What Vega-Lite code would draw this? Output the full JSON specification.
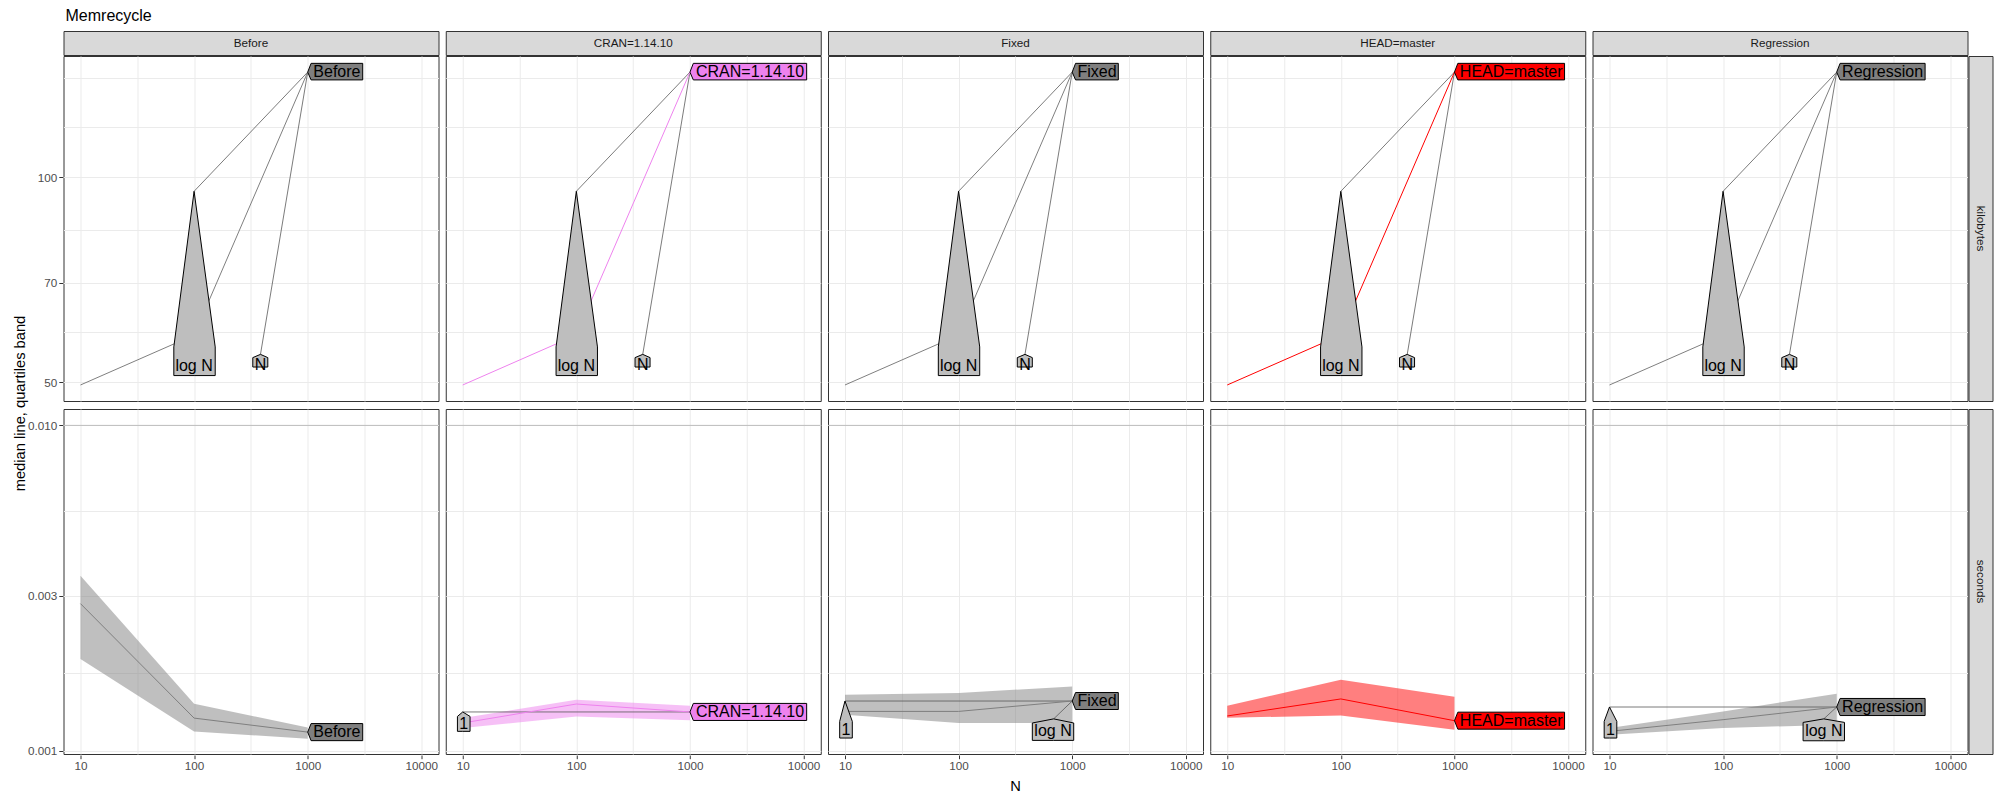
{
 "$schema": "https://vega.github.io/schema/vega-lite/v6.json",
 "padding": {"left": 12.5, "top": 7, "right": 4, "bottom": 4},
 "title": {"text": "Memrecycle", "anchor": "start", "fontSize": 16, "fontWeight": "normal", "color": "#000000", "offset": 7, "dx": 53},
 "config": {
  "font": "Liberation Sans",
  "view": {"stroke": "#333333", "strokeWidth": 1, "fill": "#FFFFFF"},
  "axis": {"domain": false, "gridColor": "#EBEBEB", "gridWidth": 1, "tickColor": "#333333", "tickSize": 3.7, "tickWidth": 1, "labelFontSize": 11.7, "labelColor": "#4D4D4D", "labelPadding": 2, "titleFontSize": 14.7, "titleFontWeight": "normal", "titleColor": "#000000", "labelFlush": false, "labelOverlap": false, "labelBound": false},
  "header": {"titleFontSize": 14.7, "titleFontWeight": "normal", "titleColor": "#000000"}
 },
 "datasets": {
  "ytitle": [{"t": "median line, quartiles band"}],
  "strip": [{"expr": "Before", "part": "strip"}, {"expr": "CRAN=1.14.10", "part": "strip"}, {"expr": "Fixed", "part": "strip"}, {"expr": "HEAD=master", "part": "strip"}, {"expr": "Regression", "part": "strip"}],
  "kbunit": [{"unit": "kilobytes"}],
  "secunit": [{"unit": "seconds"}],
  "kb": [
   {"expr": "Before", "kind": "median", "N": 10, "v": 49.5},
   {"expr": "Before", "kind": "median", "N": 100, "v": 58.6},
   {"expr": "Before", "kind": "median", "N": 1000, "v": 142.6},
   {"expr": "Before", "kind": "ref", "grp": "logN", "N": 100, "v": 95.3},
   {"expr": "Before", "kind": "ref", "grp": "logN", "N": 1000, "v": 142.6},
   {"expr": "Before", "kind": "ref", "grp": "N", "N": 384, "v": 54.9},
   {"expr": "Before", "kind": "ref", "grp": "N", "N": 1000, "v": 142.6},
   {"expr": "Before", "kind": "poly", "grp": "lab", "fillcat": "Before", "N": 1000, "v": 142.6, "v2": 142.6},
   {"expr": "Before", "kind": "poly", "grp": "lab", "fillcat": "Before", "N": 1071, "v": 146.9, "v2": 138.9},
   {"expr": "Before", "kind": "poly", "grp": "lab", "fillcat": "Before", "N": 3050, "v": 146.9, "v2": 138.9},
   {"expr": "Before", "kind": "poly", "grp": "logN", "fillcat": "ref", "N": 66.3, "v": 56.3, "v2": 51.1},
   {"expr": "Before", "kind": "poly", "grp": "logN", "fillcat": "ref", "N": 100, "v": 95.3, "v2": 51.1},
   {"expr": "Before", "kind": "poly", "grp": "logN", "fillcat": "ref", "N": 153.4, "v": 56.3, "v2": 51.1},
   {"expr": "Before", "kind": "poly", "grp": "N", "fillcat": "ref", "N": 328.6, "v": 54.3, "v2": 52.6},
   {"expr": "Before", "kind": "poly", "grp": "N", "fillcat": "ref", "N": 384, "v": 54.9, "v2": 52.6},
   {"expr": "Before", "kind": "poly", "grp": "N", "fillcat": "ref", "N": 445.5, "v": 54.3, "v2": 52.6},
   {"expr": "Before", "kind": "text", "N": 1807, "v": 142.6, "label": "Before"},
   {"expr": "Before", "kind": "text", "N": 100, "v": 52.8, "label": "log N"},
   {"expr": "Before", "kind": "text", "N": 384, "v": 52.9, "label": "N"},

   {"expr": "CRAN=1.14.10", "kind": "median", "N": 10, "v": 49.5},
   {"expr": "CRAN=1.14.10", "kind": "median", "N": 100, "v": 58.6},
   {"expr": "CRAN=1.14.10", "kind": "median", "N": 1000, "v": 142.6},
   {"expr": "CRAN=1.14.10", "kind": "ref", "grp": "logN", "N": 100, "v": 95.3},
   {"expr": "CRAN=1.14.10", "kind": "ref", "grp": "logN", "N": 1000, "v": 142.6},
   {"expr": "CRAN=1.14.10", "kind": "ref", "grp": "N", "N": 384, "v": 54.9},
   {"expr": "CRAN=1.14.10", "kind": "ref", "grp": "N", "N": 1000, "v": 142.6},
   {"expr": "CRAN=1.14.10", "kind": "poly", "grp": "lab", "fillcat": "CRAN=1.14.10", "N": 1000, "v": 142.6, "v2": 142.6},
   {"expr": "CRAN=1.14.10", "kind": "poly", "grp": "lab", "fillcat": "CRAN=1.14.10", "N": 1071, "v": 146.9, "v2": 138.9},
   {"expr": "CRAN=1.14.10", "kind": "poly", "grp": "lab", "fillcat": "CRAN=1.14.10", "N": 10650, "v": 146.9, "v2": 138.9},
   {"expr": "CRAN=1.14.10", "kind": "poly", "grp": "logN", "fillcat": "ref", "N": 66.3, "v": 56.3, "v2": 51.1},
   {"expr": "CRAN=1.14.10", "kind": "poly", "grp": "logN", "fillcat": "ref", "N": 100, "v": 95.3, "v2": 51.1},
   {"expr": "CRAN=1.14.10", "kind": "poly", "grp": "logN", "fillcat": "ref", "N": 153.4, "v": 56.3, "v2": 51.1},
   {"expr": "CRAN=1.14.10", "kind": "poly", "grp": "N", "fillcat": "ref", "N": 328.6, "v": 54.3, "v2": 52.6},
   {"expr": "CRAN=1.14.10", "kind": "poly", "grp": "N", "fillcat": "ref", "N": 384, "v": 54.9, "v2": 52.6},
   {"expr": "CRAN=1.14.10", "kind": "poly", "grp": "N", "fillcat": "ref", "N": 445.5, "v": 54.3, "v2": 52.6},
   {"expr": "CRAN=1.14.10", "kind": "text", "N": 3379, "v": 142.6, "label": "CRAN=1.14.10"},
   {"expr": "CRAN=1.14.10", "kind": "text", "N": 100, "v": 52.8, "label": "log N"},
   {"expr": "CRAN=1.14.10", "kind": "text", "N": 384, "v": 52.9, "label": "N"},

   {"expr": "Fixed", "kind": "median", "N": 10, "v": 49.5},
   {"expr": "Fixed", "kind": "median", "N": 100, "v": 58.6},
   {"expr": "Fixed", "kind": "median", "N": 1000, "v": 142.6},
   {"expr": "Fixed", "kind": "ref", "grp": "logN", "N": 100, "v": 95.3},
   {"expr": "Fixed", "kind": "ref", "grp": "logN", "N": 1000, "v": 142.6},
   {"expr": "Fixed", "kind": "ref", "grp": "N", "N": 384, "v": 54.9},
   {"expr": "Fixed", "kind": "ref", "grp": "N", "N": 1000, "v": 142.6},
   {"expr": "Fixed", "kind": "poly", "grp": "lab", "fillcat": "Fixed", "N": 1000, "v": 142.6, "v2": 142.6},
   {"expr": "Fixed", "kind": "poly", "grp": "lab", "fillcat": "Fixed", "N": 1071, "v": 146.9, "v2": 138.9},
   {"expr": "Fixed", "kind": "poly", "grp": "lab", "fillcat": "Fixed", "N": 2546, "v": 146.9, "v2": 138.9},
   {"expr": "Fixed", "kind": "poly", "grp": "logN", "fillcat": "ref", "N": 66.3, "v": 56.3, "v2": 51.1},
   {"expr": "Fixed", "kind": "poly", "grp": "logN", "fillcat": "ref", "N": 100, "v": 95.3, "v2": 51.1},
   {"expr": "Fixed", "kind": "poly", "grp": "logN", "fillcat": "ref", "N": 153.4, "v": 56.3, "v2": 51.1},
   {"expr": "Fixed", "kind": "poly", "grp": "N", "fillcat": "ref", "N": 328.6, "v": 54.3, "v2": 52.6},
   {"expr": "Fixed", "kind": "poly", "grp": "N", "fillcat": "ref", "N": 384, "v": 54.9, "v2": 52.6},
   {"expr": "Fixed", "kind": "poly", "grp": "N", "fillcat": "ref", "N": 445.5, "v": 54.3, "v2": 52.6},
   {"expr": "Fixed", "kind": "text", "N": 1652, "v": 142.6, "label": "Fixed"},
   {"expr": "Fixed", "kind": "text", "N": 100, "v": 52.8, "label": "log N"},
   {"expr": "Fixed", "kind": "text", "N": 384, "v": 52.9, "label": "N"},

   {"expr": "HEAD=master", "kind": "median", "N": 10, "v": 49.5},
   {"expr": "HEAD=master", "kind": "median", "N": 100, "v": 58.6},
   {"expr": "HEAD=master", "kind": "median", "N": 1000, "v": 142.6},
   {"expr": "HEAD=master", "kind": "ref", "grp": "logN", "N": 100, "v": 95.3},
   {"expr": "HEAD=master", "kind": "ref", "grp": "logN", "N": 1000, "v": 142.6},
   {"expr": "HEAD=master", "kind": "ref", "grp": "N", "N": 384, "v": 54.9},
   {"expr": "HEAD=master", "kind": "ref", "grp": "N", "N": 1000, "v": 142.6},
   {"expr": "HEAD=master", "kind": "poly", "grp": "lab", "fillcat": "HEAD=master", "N": 1000, "v": 142.6, "v2": 142.6},
   {"expr": "HEAD=master", "kind": "poly", "grp": "lab", "fillcat": "HEAD=master", "N": 1071, "v": 146.9, "v2": 138.9},
   {"expr": "HEAD=master", "kind": "poly", "grp": "lab", "fillcat": "HEAD=master", "N": 9316, "v": 146.9, "v2": 138.9},
   {"expr": "HEAD=master", "kind": "poly", "grp": "logN", "fillcat": "ref", "N": 66.3, "v": 56.3, "v2": 51.1},
   {"expr": "HEAD=master", "kind": "poly", "grp": "logN", "fillcat": "ref", "N": 100, "v": 95.3, "v2": 51.1},
   {"expr": "HEAD=master", "kind": "poly", "grp": "logN", "fillcat": "ref", "N": 153.4, "v": 56.3, "v2": 51.1},
   {"expr": "HEAD=master", "kind": "poly", "grp": "N", "fillcat": "ref", "N": 328.6, "v": 54.3, "v2": 52.6},
   {"expr": "HEAD=master", "kind": "poly", "grp": "N", "fillcat": "ref", "N": 384, "v": 54.9, "v2": 52.6},
   {"expr": "HEAD=master", "kind": "poly", "grp": "N", "fillcat": "ref", "N": 445.5, "v": 54.3, "v2": 52.6},
   {"expr": "HEAD=master", "kind": "text", "N": 3159, "v": 142.6, "label": "HEAD=master"},
   {"expr": "HEAD=master", "kind": "text", "N": 100, "v": 52.8, "label": "log N"},
   {"expr": "HEAD=master", "kind": "text", "N": 384, "v": 52.9, "label": "N"},

   {"expr": "Regression", "kind": "median", "N": 10, "v": 49.5},
   {"expr": "Regression", "kind": "median", "N": 100, "v": 58.6},
   {"expr": "Regression", "kind": "median", "N": 1000, "v": 142.6},
   {"expr": "Regression", "kind": "ref", "grp": "logN", "N": 100, "v": 95.3},
   {"expr": "Regression", "kind": "ref", "grp": "logN", "N": 1000, "v": 142.6},
   {"expr": "Regression", "kind": "ref", "grp": "N", "N": 384, "v": 54.9},
   {"expr": "Regression", "kind": "ref", "grp": "N", "N": 1000, "v": 142.6},
   {"expr": "Regression", "kind": "poly", "grp": "lab", "fillcat": "Regression", "N": 1000, "v": 142.6, "v2": 142.6},
   {"expr": "Regression", "kind": "poly", "grp": "lab", "fillcat": "Regression", "N": 1071, "v": 146.9, "v2": 138.9},
   {"expr": "Regression", "kind": "poly", "grp": "lab", "fillcat": "Regression", "N": 6000, "v": 146.9, "v2": 138.9},
   {"expr": "Regression", "kind": "poly", "grp": "logN", "fillcat": "ref", "N": 66.3, "v": 56.3, "v2": 51.1},
   {"expr": "Regression", "kind": "poly", "grp": "logN", "fillcat": "ref", "N": 100, "v": 95.3, "v2": 51.1},
   {"expr": "Regression", "kind": "poly", "grp": "logN", "fillcat": "ref", "N": 153.4, "v": 56.3, "v2": 51.1},
   {"expr": "Regression", "kind": "poly", "grp": "N", "fillcat": "ref", "N": 328.6, "v": 54.3, "v2": 52.6},
   {"expr": "Regression", "kind": "poly", "grp": "N", "fillcat": "ref", "N": 384, "v": 54.9, "v2": 52.6},
   {"expr": "Regression", "kind": "poly", "grp": "N", "fillcat": "ref", "N": 445.5, "v": 54.3, "v2": 52.6},
   {"expr": "Regression", "kind": "text", "N": 2535, "v": 142.6, "label": "Regression"},
   {"expr": "Regression", "kind": "text", "N": 100, "v": 52.8, "label": "log N"},
   {"expr": "Regression", "kind": "text", "N": 384, "v": 52.9, "label": "N"}
  ],
  "sec": [
   {"expr": "Before", "kind": "band", "N": 10, "v": 0.003454, "v2": 0.001917},
   {"expr": "Before", "kind": "band", "N": 100, "v": 0.001397, "v2": 0.001148},
   {"expr": "Before", "kind": "band", "N": 1000, "v": 0.001181, "v2": 0.001091},
   {"expr": "Before", "kind": "limit", "v": 0.01},
   {"expr": "Before", "kind": "median", "N": 10, "v": 0.002835},
   {"expr": "Before", "kind": "median", "N": 100, "v": 0.001262},
   {"expr": "Before", "kind": "median", "N": 1000, "v": 0.001143},
   {"expr": "Before", "kind": "poly", "grp": "lab", "fillcat": "Before", "N": 1000, "v": 0.001143, "v2": 0.001143},
   {"expr": "Before", "kind": "poly", "grp": "lab", "fillcat": "Before", "N": 1071, "v": 0.001214, "v2": 0.001076},
   {"expr": "Before", "kind": "poly", "grp": "lab", "fillcat": "Before", "N": 3050, "v": 0.001214, "v2": 0.001076},
   {"expr": "Before", "kind": "text", "N": 1807, "v": 0.001143, "label": "Before"},

   {"expr": "CRAN=1.14.10", "kind": "band", "N": 10, "v": 0.001262, "v2": 0.001176},
   {"expr": "CRAN=1.14.10", "kind": "band", "N": 100, "v": 0.001437, "v2": 0.001277},
   {"expr": "CRAN=1.14.10", "kind": "band", "N": 1000, "v": 0.001377, "v2": 0.001242},
   {"expr": "CRAN=1.14.10", "kind": "limit", "v": 0.01},
   {"expr": "CRAN=1.14.10", "kind": "median", "N": 10, "v": 0.001219},
   {"expr": "CRAN=1.14.10", "kind": "median", "N": 100, "v": 0.001394},
   {"expr": "CRAN=1.14.10", "kind": "median", "N": 1000, "v": 0.001318},
   {"expr": "CRAN=1.14.10", "kind": "ref", "grp": "one", "N": 10, "v": 0.001318},
   {"expr": "CRAN=1.14.10", "kind": "ref", "grp": "one", "N": 1000, "v": 0.001318},
   {"expr": "CRAN=1.14.10", "kind": "poly", "grp": "lab", "fillcat": "CRAN=1.14.10", "N": 1000, "v": 0.001318, "v2": 0.001318},
   {"expr": "CRAN=1.14.10", "kind": "poly", "grp": "lab", "fillcat": "CRAN=1.14.10", "N": 1071, "v": 0.0014, "v2": 0.001241},
   {"expr": "CRAN=1.14.10", "kind": "poly", "grp": "lab", "fillcat": "CRAN=1.14.10", "N": 10650, "v": 0.0014, "v2": 0.001241},
   {"expr": "CRAN=1.14.10", "kind": "poly", "grp": "one", "fillcat": "ref", "N": 8.98, "v": 0.001277, "v2": 0.001149},
   {"expr": "CRAN=1.14.10", "kind": "poly", "grp": "one", "fillcat": "ref", "N": 10, "v": 0.001318, "v2": 0.001149},
   {"expr": "CRAN=1.14.10", "kind": "poly", "grp": "one", "fillcat": "ref", "N": 11.6, "v": 0.001277, "v2": 0.001149},
   {"expr": "CRAN=1.14.10", "kind": "text", "N": 3379, "v": 0.001318, "label": "CRAN=1.14.10"},
   {"expr": "CRAN=1.14.10", "kind": "text", "N": 10.2, "v": 0.001209, "label": "1"},

   {"expr": "Fixed", "kind": "band", "N": 10, "v": 0.001489, "v2": 0.001292},
   {"expr": "Fixed", "kind": "band", "N": 100, "v": 0.001507, "v2": 0.001219},
   {"expr": "Fixed", "kind": "band", "N": 1000, "v": 0.001579, "v2": 0.001219},
   {"expr": "Fixed", "kind": "limit", "v": 0.01},
   {"expr": "Fixed", "kind": "median", "N": 10, "v": 0.001323},
   {"expr": "Fixed", "kind": "median", "N": 100, "v": 0.001323},
   {"expr": "Fixed", "kind": "median", "N": 1000, "v": 0.001424},
   {"expr": "Fixed", "kind": "ref", "grp": "one", "N": 10, "v": 0.001424},
   {"expr": "Fixed", "kind": "ref", "grp": "one", "N": 1000, "v": 0.001424},
   {"expr": "Fixed", "kind": "ref", "grp": "logN", "N": 687, "v": 0.001255},
   {"expr": "Fixed", "kind": "ref", "grp": "logN", "N": 1000, "v": 0.001424},
   {"expr": "Fixed", "kind": "poly", "grp": "lab", "fillcat": "Fixed", "N": 1000, "v": 0.001424, "v2": 0.001424},
   {"expr": "Fixed", "kind": "poly", "grp": "lab", "fillcat": "Fixed", "N": 1071, "v": 0.001512, "v2": 0.001341},
   {"expr": "Fixed", "kind": "poly", "grp": "lab", "fillcat": "Fixed", "N": 2546, "v": 0.001512, "v2": 0.001341},
   {"expr": "Fixed", "kind": "poly", "grp": "one", "fillcat": "ref", "N": 8.98, "v": 0.001233, "v2": 0.001096},
   {"expr": "Fixed", "kind": "poly", "grp": "one", "fillcat": "ref", "N": 10, "v": 0.001424, "v2": 0.001096},
   {"expr": "Fixed", "kind": "poly", "grp": "one", "fillcat": "ref", "N": 11.6, "v": 0.001233, "v2": 0.001096},
   {"expr": "Fixed", "kind": "poly", "grp": "logN", "fillcat": "ref", "N": 445.6, "v": 0.001219, "v2": 0.001078},
   {"expr": "Fixed", "kind": "poly", "grp": "logN", "fillcat": "ref", "N": 687, "v": 0.001255, "v2": 0.001078},
   {"expr": "Fixed", "kind": "poly", "grp": "logN", "fillcat": "ref", "N": 1031, "v": 0.001219, "v2": 0.001078},
   {"expr": "Fixed", "kind": "text", "N": 1652, "v": 0.001424, "label": "Fixed"},
   {"expr": "Fixed", "kind": "text", "N": 10.2, "v": 0.001158, "label": "1"},
   {"expr": "Fixed", "kind": "text", "N": 678, "v": 0.001152, "label": "log N"},

   {"expr": "HEAD=master", "kind": "band", "N": 10, "v": 0.001377, "v2": 0.001265},
   {"expr": "HEAD=master", "kind": "band", "N": 100, "v": 0.001656, "v2": 0.001286},
   {"expr": "HEAD=master", "kind": "band", "N": 1000, "v": 0.001468, "v2": 0.001162},
   {"expr": "HEAD=master", "kind": "limit", "v": 0.01},
   {"expr": "HEAD=master", "kind": "median", "N": 10, "v": 0.001281},
   {"expr": "HEAD=master", "kind": "median", "N": 100, "v": 0.001445},
   {"expr": "HEAD=master", "kind": "median", "N": 1000, "v": 0.001239},
   {"expr": "HEAD=master", "kind": "poly", "grp": "lab", "fillcat": "HEAD=master", "N": 1000, "v": 0.001239, "v2": 0.001239},
   {"expr": "HEAD=master", "kind": "poly", "grp": "lab", "fillcat": "HEAD=master", "N": 1071, "v": 0.001316, "v2": 0.001167},
   {"expr": "HEAD=master", "kind": "poly", "grp": "lab", "fillcat": "HEAD=master", "N": 9316, "v": 0.001316, "v2": 0.001167},
   {"expr": "HEAD=master", "kind": "text", "N": 3159, "v": 0.001239, "label": "HEAD=master"},

   {"expr": "Regression", "kind": "band", "N": 10, "v": 0.001176, "v2": 0.001122},
   {"expr": "Regression", "kind": "band", "N": 100, "v": 0.001323, "v2": 0.001176},
   {"expr": "Regression", "kind": "band", "N": 1000, "v": 0.0015, "v2": 0.001205},
   {"expr": "Regression", "kind": "limit", "v": 0.01},
   {"expr": "Regression", "kind": "median", "N": 10, "v": 0.001149},
   {"expr": "Regression", "kind": "median", "N": 100, "v": 0.001248},
   {"expr": "Regression", "kind": "median", "N": 1000, "v": 0.001365},
   {"expr": "Regression", "kind": "ref", "grp": "one", "N": 10, "v": 0.001365},
   {"expr": "Regression", "kind": "ref", "grp": "one", "N": 1000, "v": 0.001365},
   {"expr": "Regression", "kind": "ref", "grp": "logN", "N": 770, "v": 0.001255},
   {"expr": "Regression", "kind": "ref", "grp": "logN", "N": 1000, "v": 0.001365},
   {"expr": "Regression", "kind": "poly", "grp": "lab", "fillcat": "Regression", "N": 1000, "v": 0.001365, "v2": 0.001365},
   {"expr": "Regression", "kind": "poly", "grp": "lab", "fillcat": "Regression", "N": 1071, "v": 0.00145, "v2": 0.001285},
   {"expr": "Regression", "kind": "poly", "grp": "lab", "fillcat": "Regression", "N": 6000, "v": 0.00145, "v2": 0.001285},
   {"expr": "Regression", "kind": "poly", "grp": "one", "fillcat": "ref", "N": 8.98, "v": 0.001233, "v2": 0.001096},
   {"expr": "Regression", "kind": "poly", "grp": "one", "fillcat": "ref", "N": 10, "v": 0.001365, "v2": 0.001096},
   {"expr": "Regression", "kind": "poly", "grp": "one", "fillcat": "ref", "N": 11.6, "v": 0.001233, "v2": 0.001096},
   {"expr": "Regression", "kind": "poly", "grp": "logN", "fillcat": "ref", "N": 506, "v": 0.001224, "v2": 0.001075},
   {"expr": "Regression", "kind": "poly", "grp": "logN", "fillcat": "ref", "N": 770, "v": 0.001255, "v2": 0.001075},
   {"expr": "Regression", "kind": "poly", "grp": "logN", "fillcat": "ref", "N": 1171, "v": 0.001224, "v2": 0.001075},
   {"expr": "Regression", "kind": "text", "N": 2535, "v": 0.001365, "label": "Regression"},
   {"expr": "Regression", "kind": "text", "N": 10.2, "v": 0.00116, "label": "1"},
   {"expr": "Regression", "kind": "text", "N": 770, "v": 0.00115, "label": "log N"}
  ]
 },
 "spacing": -1,
 "hconcat": [
  {
   "data": {"name": "ytitle"},
   "width": 16, "height": 745,
   "view": {"stroke": null, "fill": "#FFFFFF"},
   "mark": {"type": "text", "angle": 270, "fontSize": 14.7, "color": "#000000"},
   "encoding": {"text": {"field": "t", "type": "nominal"}}
  },
  {
   "spacing": -1,
   "vconcat": [
    {
     "data": {"name": "strip"},
     "spacing": {"column": 5.25},
     "facet": {"column": {"field": "expr", "type": "nominal", "title": null, "header": null}},
     "spec": {
      "width": 375, "height": 24,
      "view": {"fill": "#D9D9D9", "stroke": "#333333"},
      "mark": {"type": "text", "fontSize": 11.7, "color": "#1A1A1A"},
      "encoding": {
       "text": {"field": "expr", "type": "nominal"},
       "y": {"field": "part", "type": "nominal", "axis": {"labels": false, "ticks": false, "domain": false, "grid": false, "title": null, "minExtent": 35, "maxExtent": 35}}
      }
     }
    },
    {
     "spacing": 6,
     "vconcat": [
      {
       "spacing": -1,
       "hconcat": [
        {
         "data": {"name": "kb"},
         "spacing": {"column": 5.25},
         "facet": {"column": {"field": "expr", "type": "nominal", "title": null, "header": null}},
         "spec": {
          "width": 375, "height": 345,
          "layer": [
           {
            "transform": [{"filter": "datum.kind === 'ref'"}],
            "mark": {"type": "line", "color": "#595959", "strokeWidth": 0.8},
            "encoding": {
             "x": {"field": "N", "type": "quantitative", "scale": {"type": "log", "domain": [7.087, 14170], "nice": false},
                   "axis": {"values": [10, 31.62, 100, 316.2, 1000, 3162, 10000], "labels": false, "ticks": false, "title": null, "minExtent": 0, "maxExtent": 0}},
             "y": {"field": "v", "type": "quantitative", "scale": {"type": "log", "domain": [46.89, 150.6], "nice": false},
                   "axis": {"values": [50, 59.16, 70, 83.67, 100, 118.3, 140], "title": null, "minExtent": 35, "maxExtent": 35,
                            "labelExpr": "datum.value == 50 || datum.value == 70 || datum.value == 100 ? format(datum.value, 'd') : ''",
                            "tickOpacity": {"condition": {"test": "datum.value == 50 || datum.value == 70 || datum.value == 100", "value": 1}, "value": 0}}},
             "detail": {"field": "grp", "type": "nominal"}
            }
           },
           {
            "transform": [{"filter": "datum.kind === 'median'"}],
            "mark": {"type": "line", "strokeWidth": 1},
            "encoding": {
             "x": {"field": "N", "type": "quantitative", "scale": {"type": "log", "domain": [7.087, 14170], "nice": false}},
             "y": {"field": "v", "type": "quantitative", "scale": {"type": "log", "domain": [46.89, 150.6], "nice": false}},
             "color": {"field": "expr", "type": "nominal", "legend": null,
                       "scale": {"domain": ["Before", "CRAN=1.14.10", "Fixed", "HEAD=master", "Regression"], "range": ["#7F7F7F", "#EE82EE", "#7F7F7F", "#FF0000", "#7F7F7F"]}}
            }
           },
           {
            "transform": [{"filter": "datum.kind === 'poly'"}],
            "mark": {"type": "area", "orient": "vertical", "stroke": "#000000", "strokeWidth": 1, "fillOpacity": 1, "interpolate": "linear"},
            "encoding": {
             "x": {"field": "N", "type": "quantitative", "scale": {"type": "log", "domain": [7.087, 14170], "nice": false}},
             "y": {"field": "v", "type": "quantitative", "scale": {"type": "log", "domain": [46.89, 150.6], "nice": false}},
             "y2": {"field": "v2"},
             "fill": {"field": "fillcat", "type": "nominal", "legend": null,
                      "scale": {"domain": ["Before", "CRAN=1.14.10", "Fixed", "HEAD=master", "Regression", "ref"], "range": ["#7F7F7F", "#EE82EE", "#7F7F7F", "#FF0000", "#7F7F7F", "#BEBEBE"]}},
             "detail": {"field": "grp", "type": "nominal"}
            }
           },
           {
            "transform": [{"filter": "datum.kind === 'text'"}],
            "mark": {"type": "text", "fontSize": 16, "align": "center", "baseline": "middle", "color": "#000000"},
            "encoding": {
             "x": {"field": "N", "type": "quantitative", "scale": {"type": "log", "domain": [7.087, 14170], "nice": false}},
             "y": {"field": "v", "type": "quantitative", "scale": {"type": "log", "domain": [46.89, 150.6], "nice": false}},
             "text": {"field": "label", "type": "nominal"}
            }
           }
          ]
         }
        },
        {
         "data": {"name": "kbunit"},
         "width": 24, "height": 345,
         "view": {"fill": "#D9D9D9", "stroke": "#333333"},
         "mark": {"type": "text", "angle": 90, "fontSize": 11.7, "color": "#1A1A1A"},
         "encoding": {"text": {"field": "unit", "type": "nominal"}}
        }
       ]
      },
      {
       "spacing": -1,
       "hconcat": [
        {
         "data": {"name": "sec"},
         "spacing": {"column": 5.25},
         "facet": {"column": {"field": "expr", "type": "nominal", "title": "N", "header": {"labels": false, "titleOrient": "bottom", "titlePadding": -4}}},
         "spec": {
          "width": 375, "height": 345,
          "layer": [
           {
            "transform": [{"filter": "datum.kind === 'band'"}],
            "mark": {"type": "area", "orient": "vertical", "opacity": 0.5, "interpolate": "linear"},
            "encoding": {
             "x": {"field": "N", "type": "quantitative", "scale": {"type": "log", "domain": [7.087, 14170], "nice": false},
                   "axis": {"values": [10, 31.62, 100, 316.2, 1000, 3162, 10000], "title": null,
                            "labelExpr": "datum.value == 10 || datum.value == 100 || datum.value == 1000 || datum.value == 10000 ? format(datum.value, 'd') : ''",
                            "tickOpacity": {"condition": {"test": "datum.value == 10 || datum.value == 100 || datum.value == 1000 || datum.value == 10000", "value": 1}, "value": 0}}},
             "y": {"field": "v", "type": "quantitative", "scale": {"type": "log", "domain": [0.000979, 0.01123], "nice": false},
                   "axis": {"values": [0.001, 0.001732, 0.003, 0.005477, 0.01], "title": null, "minExtent": 35, "maxExtent": 35,
                            "labelExpr": "datum.value == 0.001 || datum.value == 0.003 || datum.value == 0.01 ? format(datum.value, '.3f') : ''",
                            "tickOpacity": {"condition": {"test": "datum.value == 0.001 || datum.value == 0.003 || datum.value == 0.01", "value": 1}, "value": 0}}},
             "y2": {"field": "v2"},
             "color": {"field": "expr", "type": "nominal", "legend": null,
                       "scale": {"domain": ["Before", "CRAN=1.14.10", "Fixed", "HEAD=master", "Regression"], "range": ["#7F7F7F", "#EE82EE", "#7F7F7F", "#FF0000", "#7F7F7F"]}}
            }
           },
           {
            "transform": [{"filter": "datum.kind === 'limit'"}],
            "mark": {"type": "rule", "color": "#BEBEBE", "strokeWidth": 1},
            "encoding": {
             "y": {"field": "v", "type": "quantitative", "scale": {"type": "log", "domain": [0.000979, 0.01123], "nice": false}}
            }
           },
           {
            "transform": [{"filter": "datum.kind === 'ref'"}],
            "mark": {"type": "line", "color": "#595959", "strokeWidth": 0.8},
            "encoding": {
             "x": {"field": "N", "type": "quantitative", "scale": {"type": "log", "domain": [7.087, 14170], "nice": false}},
             "y": {"field": "v", "type": "quantitative", "scale": {"type": "log", "domain": [0.000979, 0.01123], "nice": false}},
             "detail": {"field": "grp", "type": "nominal"}
            }
           },
           {
            "transform": [{"filter": "datum.kind === 'median'"}],
            "mark": {"type": "line", "strokeWidth": 1},
            "encoding": {
             "x": {"field": "N", "type": "quantitative", "scale": {"type": "log", "domain": [7.087, 14170], "nice": false}},
             "y": {"field": "v", "type": "quantitative", "scale": {"type": "log", "domain": [0.000979, 0.01123], "nice": false}},
             "color": {"field": "expr", "type": "nominal", "legend": null,
                       "scale": {"domain": ["Before", "CRAN=1.14.10", "Fixed", "HEAD=master", "Regression"], "range": ["#7F7F7F", "#EE82EE", "#7F7F7F", "#FF0000", "#7F7F7F"]}}
            }
           },
           {
            "transform": [{"filter": "datum.kind === 'poly'"}],
            "mark": {"type": "area", "orient": "vertical", "stroke": "#000000", "strokeWidth": 1, "fillOpacity": 1, "interpolate": "linear"},
            "encoding": {
             "x": {"field": "N", "type": "quantitative", "scale": {"type": "log", "domain": [7.087, 14170], "nice": false}},
             "y": {"field": "v", "type": "quantitative", "scale": {"type": "log", "domain": [0.000979, 0.01123], "nice": false}},
             "y2": {"field": "v2"},
             "fill": {"field": "fillcat", "type": "nominal", "legend": null,
                      "scale": {"domain": ["Before", "CRAN=1.14.10", "Fixed", "HEAD=master", "Regression", "ref"], "range": ["#7F7F7F", "#EE82EE", "#7F7F7F", "#FF0000", "#7F7F7F", "#BEBEBE"]}},
             "detail": {"field": "grp", "type": "nominal"}
            }
           },
           {
            "transform": [{"filter": "datum.kind === 'text'"}],
            "mark": {"type": "text", "fontSize": 16, "align": "center", "baseline": "middle", "color": "#000000"},
            "encoding": {
             "x": {"field": "N", "type": "quantitative", "scale": {"type": "log", "domain": [7.087, 14170], "nice": false}},
             "y": {"field": "v", "type": "quantitative", "scale": {"type": "log", "domain": [0.000979, 0.01123], "nice": false}},
             "text": {"field": "label", "type": "nominal"}
            }
           }
          ]
         }
        },
        {
         "data": {"name": "secunit"},
         "width": 24, "height": 345,
         "view": {"fill": "#D9D9D9", "stroke": "#333333"},
         "mark": {"type": "text", "angle": 90, "fontSize": 11.7, "color": "#1A1A1A"},
         "encoding": {"text": {"field": "unit", "type": "nominal"}}
        }
       ]
      }
     ]
    }
   ]
  }
 ]
}
